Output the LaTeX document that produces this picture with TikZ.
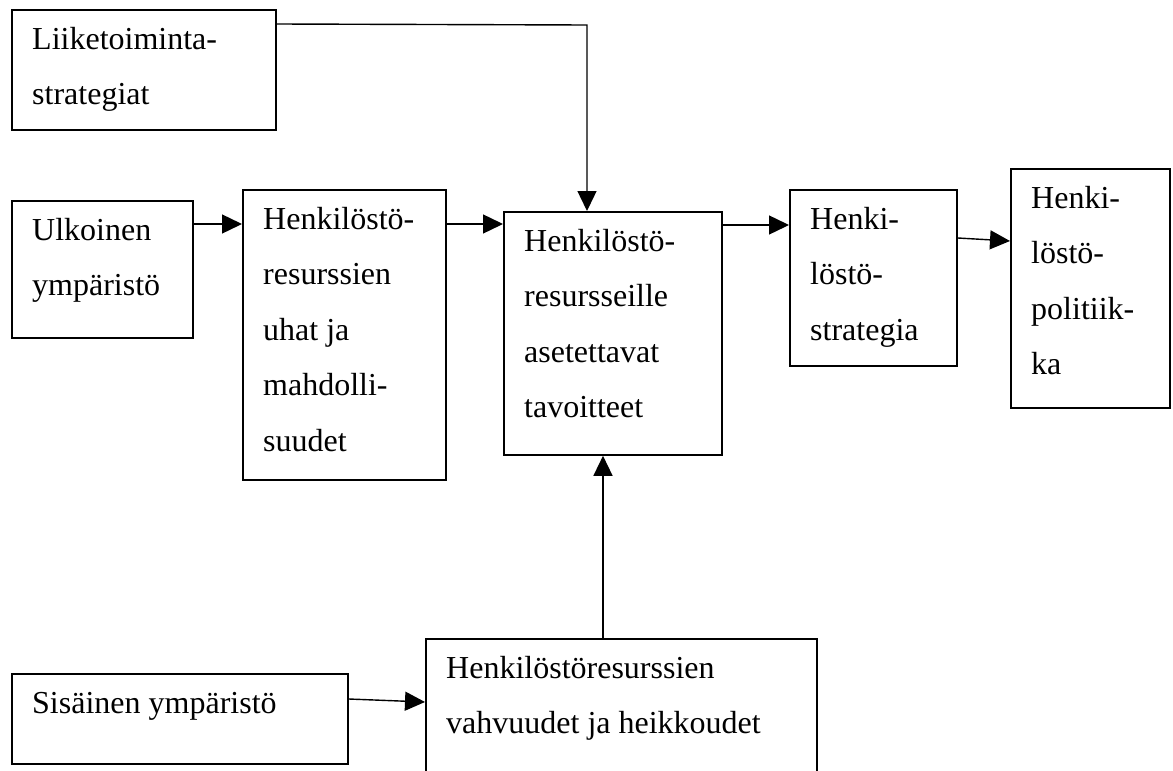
\documentclass[tikz,border=0pt]{standalone}
\usepackage{fontspec}
\setmainfont{Liberation Serif}
\usetikzlibrary{arrows.meta}
\tikzset{
  box/.style={draw, line width=1.8pt, inner sep=0pt, anchor=north west},
  txt/.style={inner sep=0pt, anchor=north west, align=left,
    font=\fontsize{32}{55.5}\selectfont},
  arr/.style={line width=1.4pt, -{Triangle[length=20pt,width=19pt]}},
}
% strut height = 0.7*55.5 = 38.85pt, first baseline 40pt below box top
\newcommand{\mybox}[6]{%
  \node[box, minimum width=#3pt, minimum height=#4pt] (#1) at (#2) {};
  \node[txt] (#1t) at ([xshift=21pt,yshift=-1.15pt]#1.north west) {\strut #6};
}
\begin{document}
\begin{tikzpicture}[x=1pt,y=-1pt]
\useasboundingbox (0,0) rectangle (1173,771);
\clip (0,0) rectangle (1173,771);
\fill[white] (0,0) rectangle (1173,771);
\mybox{b1}{11,9}{264}{120}{}{Liiketoiminta-\\strategiat}
\mybox{ulk}{11,200}{181}{137}{}{Ulkoinen\\ympäristö}
\mybox{uhat}{242,189}{203}{290}{}{Henkilöstö-\\resurssien\\uhat ja\\mahdolli-\\suudet}
\mybox{ce}{503,211}{218}{243}{}{Henkilöstö-\\resursseille\\asetettavat\\tavoitteet}
\mybox{st}{789,189}{167}{176}{}{Henki-\\löstö-\\strategia}
\mybox{po}{1010,168}{159}{239}{}{Henki-\\löstö-\\politiik-\\ka}
\mybox{sis}{11,673}{336}{90}{}{Sisäinen ympäristö}
\mybox{bo}{425,638}{391}{150}{}{Henkilöstöresurssien\\vahvuudet ja heikkoudet}
\coordinate (c1) at (587,25);
\draw[arr] ([yshift=-15pt]b1.north east) -- (c1) -- (c1 |- ce.north);
\draw[arr] (ulk.east |- 0,224) -- (uhat.west |- 0,224);
\draw[arr] (uhat.east |- 0,224) -- (ce.west |- 0,224);
\draw[arr] (ce.east |- 0,225) -- (st.west |- 0,225);
\draw[arr] (st.east |- 0,238) -- (po.west |- 0,241);
\draw[arr] (bo.north -| 603,0) -- (ce.south -| 603,0);
\draw[arr] (sis.east |- 0,699) -- (bo.west |- 0,702);
\end{tikzpicture}
\end{document}
